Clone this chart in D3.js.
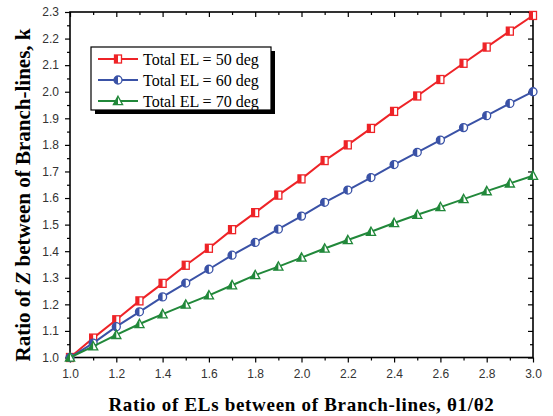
<!DOCTYPE html>
<html lang="en">
    <head>
        <title>Ratio of Z between Branch-lines</title>
        <script src="https://d3js.org/d3.v7.min.js"></script>
        <style>
            body { margin: 0; background: #fff; }
            .tick text { font-family: 'Liberation Sans', Arial, sans-serif; font-size: 12px; fill: #333; }
        </style>
    </head>
    <body>
    <div id="mainDiv">
    </div>

        <script type="text/javascript">
            // data
            const ratios = [1.0, 1.1, 1.2, 1.3, 1.4, 1.5, 1.6, 1.7, 1.8, 1.9, 2.0,
                            2.1, 2.2, 2.3, 2.4, 2.5, 2.6, 2.7, 2.8, 2.9, 3.0]
            const el50 = [1.000, 1.073, 1.142, 1.213, 1.279, 1.347, 1.411, 1.481, 1.545, 1.611, 1.672,
                          1.741, 1.800, 1.862, 1.926, 1.984, 2.046, 2.107, 2.168, 2.228, 2.287]
            const el60 = [1.000, 1.054, 1.116, 1.172, 1.228, 1.280, 1.332, 1.385, 1.433, 1.483, 1.532,
                          1.584, 1.630, 1.677, 1.726, 1.772, 1.818, 1.865, 1.910, 1.956, 2.000]
            const el70 = [1.000, 1.042, 1.085, 1.126, 1.163, 1.199, 1.234, 1.272, 1.310, 1.342, 1.376,
                          1.410, 1.442, 1.473, 1.506, 1.537, 1.566, 1.596, 1.626, 1.655, 1.684]
            const seriesNames = ['Total EL = 50 deg', 'Total EL = 60 deg', 'Total EL = 70 deg']
            const xTicks = [1.0, 1.2, 1.4, 1.6, 1.8, 2.0, 2.2, 2.4, 2.6, 2.8, 3.0]
            const yTicks = [1.0, 1.1, 1.2, 1.3, 1.4, 1.5, 1.6, 1.7, 1.8, 1.9, 2.0, 2.1, 2.2, 2.3]

            const width = 553
            const height = 416

            const plot = { left: 70, right: 533, top: 12, bottom: 357.5 }

            const svg = d3.select('#mainDiv').append('svg')
                .attr('width', width)
                .attr('height', height)

            const xScale = d3.scaleLinear().domain([1.0, 3.0]).range([plot.left, plot.right])
            const yScale = d3.scaleLinear().domain([1.0, 2.3]).range([plot.bottom, plot.top])

            const fmt = d3.format('.1f')
            const xMinor = d3.range(10, 31).map(d => d / 10).filter(d => !xTicks.some(t => Math.abs(t - d) < 1e-9))
            const yMinor = d3.range(21, 461, 2).map(d => d / 20).filter(d => d <= 2.3)

            // minor ticks first
            svg.append('g').attr('transform', `translate(0,${plot.bottom})`)
                .call(d3.axisBottom(xScale).tickValues(xMinor).tickSize(3).tickFormat(''))
            svg.append('g').attr('transform', `translate(0,${plot.top})`)
                .call(d3.axisBottom(xScale).tickValues(xMinor).tickSize(3).tickFormat(''))
            svg.append('g').attr('transform', `translate(${plot.left},0)`)
                .call(d3.axisLeft(yScale).tickValues(yMinor).tickSize(3).tickFormat(''))
            svg.append('g').attr('transform', `translate(${plot.right},0)`)
                .call(d3.axisLeft(yScale).tickValues(yMinor).tickSize(3).tickFormat(''))

            // major ticks
            svg.append('g').attr('transform', `translate(0,${plot.bottom})`)
                .call(d3.axisBottom(xScale).tickValues(xTicks).tickSize(5).tickPadding(7).tickFormat(fmt))
            svg.append('g').attr('transform', `translate(0,${plot.top})`)
                .call(d3.axisBottom(xScale).tickValues(xTicks).tickSize(5).tickFormat(''))
            svg.append('g').attr('transform', `translate(${plot.left},0)`)
                .call(d3.axisLeft(yScale).tickValues(yTicks).tickSize(5).tickPadding(6).tickFormat(fmt))
            svg.append('g').attr('transform', `translate(${plot.right},0)`)
                .call(d3.axisLeft(yScale).tickValues(yTicks).tickSize(5).tickFormat(''))

            svg.selectAll('.domain').remove()
            svg.selectAll('.tick line').attr('stroke', '#000').attr('stroke-width', 1.2)

            // frame
            svg.append('rect')
                .attr('x', plot.left).attr('y', plot.top)
                .attr('width', plot.right - plot.left).attr('height', plot.bottom - plot.top)
                .attr('fill', 'none').attr('stroke', '#000').attr('stroke-width', 1.6)

            const colors = ['#ee2327', '#3a52a6', '#21883a']
            const allSeries = [el50, el60, el70]

            const line = d3.line()
                .x((d, i) => xScale(ratios[i]))
                .y(d => yScale(d))

            // markers are half filled: clip to the left half
            svg.append('defs').append('clipPath').attr('id', 'leftHalf')
                .append('rect').attr('x', -10).attr('y', -10).attr('width', 10).attr('height', 20)

            function drawMarker(g, kind, color) {
                let shape
                if (kind === 0) {
                    shape = () => g.append('rect').attr('x', -3.5).attr('y', -4).attr('width', 7).attr('height', 8)
                } else if (kind === 1) {
                    shape = () => g.append('circle').attr('r', 4)
                } else {
                    shape = () => g.append('path').attr('d', 'M0,-4.8L4.6,3.6L-4.6,3.6Z')
                }
                shape().attr('fill', '#fff').attr('stroke', 'none')
                shape().attr('fill', color).attr('clip-path', 'url(#leftHalf)')
                shape().attr('fill', 'none').attr('stroke', color).attr('stroke-width', 1.3)
            }

            allSeries.forEach((vals, s) => {
                svg.append('path')
                    .datum(vals)
                    .attr('d', line)
                    .attr('fill', 'none')
                    .attr('stroke', colors[s])
                    .attr('stroke-width', 2)

                svg.append('g').selectAll('g')
                    .data(vals)
                    .join('g')
                    .attr('transform', (d, i) => `translate(${xScale(ratios[i])},${yScale(d)})`)
                    .each(function () { drawMarker(d3.select(this), s, colors[s]) })
            })

            // legend with drop shadow
            const legend = svg.append('g').attr('transform', 'translate(91,47)')
            legend.append('rect').attr('x', 4).attr('y', 4).attr('width', 180).attr('height', 63).attr('fill', '#000')
            legend.append('rect').attr('width', 180).attr('height', 63)
                .attr('fill', '#fff').attr('stroke', '#000').attr('stroke-width', 1.2)
            seriesNames.forEach((name, s) => {
                const row = legend.append('g').attr('transform', `translate(0,${12 + s * 21})`)
                row.append('line').attr('x1', 7).attr('x2', 47).attr('stroke', colors[s]).attr('stroke-width', 2)
                const m = row.append('g').attr('transform', 'translate(27,0)')
                drawMarker(m, s, colors[s])
                row.append('text')
                    .attr('x', 52).attr('y', 5.5)
                    .style('font-family', "'Liberation Serif', 'Times New Roman', serif")
                    .style('font-size', '16px')
                    .text(name)
            })

            // axis titles
            svg.append('text')
                .attr('x', (plot.left + plot.right) / 2)
                .attr('y', 411)
                .attr('text-anchor', 'middle')
                .style('font-family', "'Liberation Serif', 'Times New Roman', serif")
                .style('font-size', '19px')
                .style('font-weight', 'bold')
                .style('letter-spacing', '0.7px')
                .text('Ratio of ELs between of Branch-lines, θ1/θ2')

            const yTitle = svg.append('text')
                .attr('transform', 'translate(30,195) rotate(-90)')
                .attr('text-anchor', 'middle')
                .style('font-family', "'Liberation Serif', 'Times New Roman', serif")
                .style('font-size', '21px')
                .style('font-weight', 'bold')
            yTitle.append('tspan').text('Ratio of ')
            yTitle.append('tspan').style('font-style', 'italic').text('Z')
            yTitle.append('tspan').text(' between of Branch-lines, k')
        </script>
    </body>
</html>
